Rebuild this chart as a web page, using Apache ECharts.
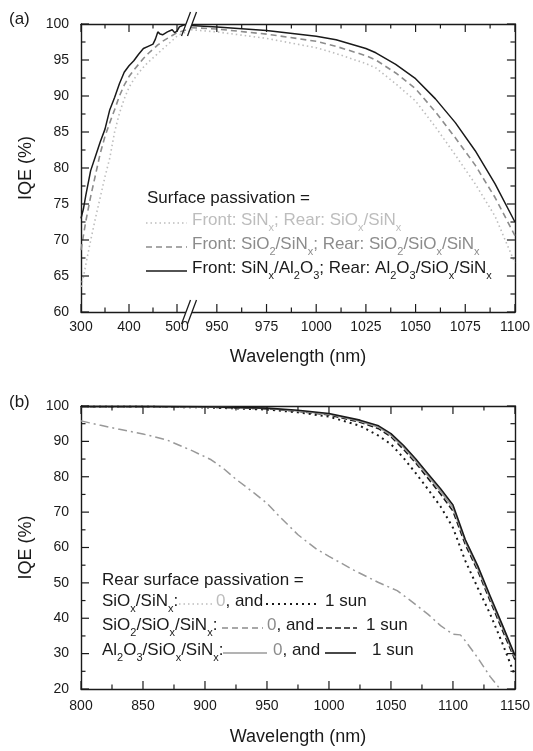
<!DOCTYPE html>
<html>
<head>
<meta charset="utf-8">
<script src="https://cdn.jsdelivr.net/npm/echarts@6/dist/echarts.min.js"></script>
<style>
html,body{margin:0;padding:0;background:#fff;}
#wrap{position:relative;width:533px;height:751px;}
#main,#over{position:absolute;left:0;top:0;width:533px;height:751px;}
#over{pointer-events:none;}
</style>
</head>
<body>
<div id="wrap"><div id="main"></div><div id="over"></div></div>
<script>
// (a) short wavelength part, nm
var aLeftNm    = [300,305,310,320,330,340,350,360,370,380,390,400,410,420,430,440,450,455,460,465,470,480,490,495,500,505,515,525];
var aLeftSolid = [73.0,74.3,76.2,79.6,81.6,83.6,85.4,88.1,89.8,91.7,93.3,94.2,94.9,95.8,96.6,96.9,97.2,97.9,98.9,98.6,98.5,98.9,99.2,98.8,99.0,99.6,99.9,99.9];
var aLeftDash  = [68.6,70.6,72.6,76.0,79.0,82.0,84.4,86.3,88.1,90.0,91.5,92.7,93.6,94.4,95.2,95.9,96.5,96.8,97.1,97.3,97.6,98.0,98.4,98.6,98.8,98.9,99.1,99.3];
var aLeftDot   = [63.5,64.8,66.6,69.9,73.0,75.9,78.8,81.4,85.0,87.6,89.6,91.2,92.3,93.2,94.0,94.7,95.3,95.6,95.9,96.2,96.5,97.1,97.7,98.0,98.3,98.5,98.8,99.0];

// (a) long wavelength part, nm
var aRightNm    = [937,950,975,1000,1010,1025,1030,1040,1050,1060,1070,1080,1090,1100];
var aRightSolid = [99.8,99.6,99.1,98.3,97.8,96.6,96.0,94.4,92.4,89.6,86.3,82.4,77.8,72.5];
var aRightDash  = [99.5,99.3,98.6,97.6,96.9,95.6,95.0,93.2,91.0,87.8,84.2,80.4,75.9,70.6];
var aRightDot   = [99.2,98.9,98.0,96.7,95.9,94.5,93.9,91.7,89.3,85.7,81.8,77.8,73.3,66.8];

// (b)
var bNm        = [800,850,900,950,975,1000,1025,1040,1050,1060,1070,1080,1090,1100,1110,1120,1130,1140,1150];
var bAlOx1Sun  = [99.9,99.9,99.8,99.4,98.8,97.9,96.0,94.4,92.2,88.9,85.0,80.8,76.6,72.0,62.2,54.8,46.3,38.0,29.5];
var bAlOx0Sun  = [99.8,99.8,99.7,99.3,98.6,97.7,95.7,94.0,91.7,88.4,84.4,80.2,75.9,71.2,61.6,54.1,45.6,37.3,28.9];
var bSiO21Sun  = [99.8,99.8,99.7,99.2,98.5,97.5,95.4,93.6,91.3,87.8,83.9,79.5,75.1,70.3,60.8,53.4,44.9,36.5,28.3];
var bSiOx1Sun  = [99.8,99.8,99.6,99.0,98.2,97.0,94.4,91.6,89.2,85.4,81.0,76.4,71.6,65.6,56.2,48.6,41.2,32.8,23.8];
var bLowNm     = [800,815,830,850,870,890,905,915,925,940,950,960,975,990,1000,1020,1040,1055,1065,1080,1090,1100,1106,1110,1120,1130,1138];
var bLow0Sun   = [95.8,94.6,93.5,92.1,90.3,87.3,84.8,82.3,79.3,75.3,72.5,68.8,63.6,59.5,57.5,53.6,50.1,47.8,45.2,41.1,37.9,35.5,35.3,33.6,28.8,23.5,20.0];

// ticks
var aLeftMajor  = [300,400,500];
var aLeftMinor  = [350,450];
var aRightMajor = [950,975,1000,1025,1050,1075,1100];
var aRightMinor = [962.5,987.5,1012.5,1037.5,1062.5,1087.5];
var aYMajor = [60,65,70,75,80,85,90,95,100];
var aYMinor = [62.5,67.5,72.5,77.5,82.5,87.5,92.5,97.5];
var bXMajor = [800,850,900,950,1000,1050,1100,1150];
var bXMinor = [825,875,925,975,1025,1075,1125];
var bYMajor = [20,30,40,50,60,70,80,90,100];
var bYMinor = [25,35,45,55,65,75,85,95];

var FONT = '"Liberation Sans", Arial, Helvetica, sans-serif';
var INK = '#1a1a1a', LIGHT = '#bdbdbd', GRAY = '#8c8c8c', GRAY2 = '#9a9a9a';

function plain(v) { return String(v); }

function axis(grid, pos, min, max, interval, fmt, margin) {
    var a = {
        type: 'value', gridIndex: grid, position: pos, min: min, max: max, interval: interval,
        axisLine: {show: true, onZero: false, lineStyle: {color: INK, width: 1.4}},
        axisTick: {show: false},
        minorTick: {show: false},
        axisLabel: {show: !!fmt, color: INK, fontSize: 14, fontFamily: FONT, margin: margin || 8, showMaxLabel: true},
        splitLine: {show: false},
        nameTextStyle: {color: INK, fontSize: 18, fontFamily: FONT}
    };
    if (fmt) a.axisLabel.formatter = fmt;
    return a;
}

var xAxes = [
    axis(0, 'bottom', 300, 525, 100, plain, 8),
    axis(0, 'top', 300, 525, 100),
    axis(1, 'bottom', 937.5, 1100, 12.5, function (v) { return v % 25 === 0 ? String(v) : ''; }, 8),
    axis(1, 'top', 937.5, 1100, 12.5),
    axis(2, 'bottom', 800, 1150, 50, plain, 10),
    axis(2, 'top', 800, 1150, 50)
];
xAxes[0].axisLabel.showMaxLabel = false;

var yAxes = [
    axis(0, 'left', 60, 100, 5, plain, 12),
    axis(1, 'right', 60, 100, 5),
    axis(2, 'left', 20, 100, 10, plain, 12),
    axis(2, 'right', 20, 100, 10)
];

yAxes[0].name = 'IQE (%)';
yAxes[0].nameLocation = 'middle';
yAxes[0].nameGap = 46;
yAxes[2].name = 'IQE (%)';
yAxes[2].nameLocation = 'middle';
yAxes[2].nameGap = 46;
xAxes[4].name = 'Wavelength (nm)';
xAxes[4].nameLocation = 'middle';
xAxes[4].nameGap = 39;

var axA1 = {x: 0, y: 0}, axA2 = {x: 2, y: 1}, axB = {x: 4, y: 2};

function pairs(xs, ys) {
    return xs.map(function (x, i) { return [x, ys[i]]; });
}

function curve(name, ax, xs, ys, color, type, width, z) {
    return {
        name: name, type: 'line', xAxisIndex: ax.x, yAxisIndex: ax.y,
        data: pairs(xs, ys), symbol: 'none', silent: true, z: z,
        lineStyle: {color: color, type: type, width: width}
    };
}

var DOT = [1.5, 3], DASH = [6, 4];
var series = [
    curve('a dot', axA1, aLeftNm, aLeftDot, LIGHT, DOT, 1.6, 2),
    curve('a dash', axA1, aLeftNm, aLeftDash, GRAY, DASH, 1.6, 3),
    curve('a solid', axA1, aLeftNm, aLeftSolid, INK, 'solid', 1.5, 4),
    curve('a dot', axA2, aRightNm, aRightDot, LIGHT, DOT, 1.6, 2),
    curve('a dash', axA2, aRightNm, aRightDash, GRAY, DASH, 1.6, 3),
    curve('a solid', axA2, aRightNm, aRightSolid, INK, 'solid', 1.5, 4),
    curve('0 sun low', axB, bLowNm, bLow0Sun, '#999', [9, 4, 2, 4], 1.5, 2),
    curve('SiOx 1 sun', axB, bNm, bSiOx1Sun, INK, [2, 4], 2, 3),
    curve('SiO2 1 sun', axB, bNm, bSiO21Sun, INK, [6, 3], 1.6, 3),
    curve('AlOx 0 sun', axB, bNm, bAlOx0Sun, GRAY2, 'solid', 1.5, 3),
    curve('AlOx 1 sun', axB, bNm, bAlOx1Sun, INK, 'solid', 1.6, 4)
];

var chart = echarts.init(document.getElementById('main'));
chart.setOption({
    animation: false,
    backgroundColor: '#fff',
    grid: [
        {left: 81, top: 24, width: 108, height: 288},
        {left: 192, top: 24, width: 323, height: 288},
        {left: 81, top: 406, width: 434, height: 283}
    ],
    xAxis: xAxes,
    yAxis: yAxes,
    series: series
});

var graphics = [];

function seg(x1, y1, x2, y2, w) {
    graphics.push({type: 'line', z: 90, silent: true,
        shape: {x1: x1, y1: y1, x2: x2, y2: y2},
        style: {stroke: INK, lineWidth: w || 1.2}});
}

//inward ticks, placed with the chart's own axis scales
function addTicks(ax, xr, yr, xMaj, xMin, yMaj, yMin, sides) {
    var px = function (v) { return chart.convertToPixel({xAxisIndex: ax.x}, v); };
    var py = function (v) { return chart.convertToPixel({yAxisIndex: ax.y}, v); };
    var bottom = py(yr[0]), top = py(yr[1]), left = px(xr[0]), right = px(xr[1]);
    [[xMaj, 8], [xMin, 4.5]].forEach(function (set) {
        set[0].forEach(function (v) {
            var x = px(v);
            seg(x, bottom, x, bottom - set[1]);
            seg(x, top, x, top + set[1]);
        });
    });
    [[yMaj, 8], [yMin, 4.5]].forEach(function (set) {
        set[0].forEach(function (v) {
            var y = py(v);
            if (sides.indexOf('left') >= 0) seg(left, y, left + set[1], y);
            if (sides.indexOf('right') >= 0) seg(right, y, right - set[1], y);
        });
    });
}

addTicks(axA1, [300, 525], [60, 100], aLeftMajor, aLeftMinor, aYMajor, aYMinor, ['left']);
addTicks(axA2, [937.5, 1100], [60, 100], aRightMajor, aRightMinor, aYMajor, aYMinor, ['right']);
addTicks(axB, [800, 1150], [20, 100], bXMajor, bXMinor, bYMajor, bYMinor, ['left', 'right']);

// rich text with _x style subscripts
var rich = {};
[['k', INK], ['l', LIGHT], ['g', GRAY]].forEach(function (c) {
    rich[c[0]] = {fontSize: 17, fontFamily: FONT, lineHeight: 20, verticalAlign: 'top', fill: c[1], color: c[1]};
    rich[c[0] + 's'] = {fontSize: 11, fontFamily: FONT, lineHeight: 12, padding: [10, 0, 0, 0], verticalAlign: 'top', fill: c[1], color: c[1]};
});
function richText(s, key) {
    return s.split(/_(\w)/).map(function (p, i) {
        if (p === '') return '';
        return i % 2 ? '{' + key + 's|' + p + '}' : '{' + key + '|' + p + '}';
    }).join('');
}

function txt(x, y, text) {
    graphics.push({
        type: 'text', x: x, y: y - 10, z: 100, silent: true,
        style: {text: text, rich: rich, align: 'left', textAlign: 'left', verticalAlign: 'top', textVerticalAlign: 'top',
                fontSize: 17, fontFamily: FONT, fill: INK}
    });
}
function sample(x1, x2, y, color, dash, w) {
    graphics.push({
        type: 'line', z: 100, silent: true,
        shape: {x1: x1, y1: y, x2: x2, y2: y},
        style: {stroke: color, lineWidth: w, lineDash: dash || [0]}
    });
}
//axis break: white gap and two slashes
function brk(y) {
    graphics.push({type: 'polygon', z: 100, silent: true,
        shape: {points: [[184.5, y + 4], [187.5, y - 4], [193.5, y - 4], [190.5, y + 4]]},
        style: {fill: '#fff'}});
    [186, 192].forEach(function (cx) {
        graphics.push({type: 'line', z: 101, silent: true,
            shape: {x1: cx - 4.5, y1: y + 12, x2: cx + 4.5, y2: y - 12},
            style: {stroke: INK, lineWidth: 1.3}});
    });
}

brk(24);
brk(312);

txt(9, 21, '{k|(a)}');
txt(9, 404, '{k|(b)}');
graphics.push({
    type: 'text', x: 298, y: 357, z: 100, silent: true,
    style: {text: 'Wavelength (nm)', fontSize: 18, fontFamily: FONT, fill: INK,
            align: 'center', textAlign: 'center', verticalAlign: 'middle', textVerticalAlign: 'middle'}
});

// legend (a)
txt(147, 200, richText('Surface passivation =', 'k'));
sample(146, 187, 223, LIGHT, DOT, 1.6);
txt(192, 222, richText('Front: SiN_x; Rear: SiO_x/SiN_x', 'l'));
sample(146, 187, 247, GRAY, DASH, 1.6);
txt(192, 246, richText('Front: SiO_2/SiN_x; Rear: SiO_2/SiO_x/SiN_x', 'g'));
sample(146, 187, 271, INK, null, 1.5);
txt(192, 270, richText('Front: SiN_x/Al_2O_3; Rear: Al_2O_3/SiO_x/SiN_x', 'k'));

// legend (b)
txt(102, 582, richText('Rear surface passivation =', 'k'));
txt(102, 603, richText('SiO_x/SiN_x:', 'k'));
sample(179, 213, 604, LIGHT, DOT, 1.6);
txt(216, 603, richText('0', 'l') + richText(', and', 'k'));
sample(266, 318, 604, INK, [2, 4], 2);
txt(325, 603, richText('1 sun', 'k'));
txt(102, 627, richText('SiO_2/SiO_x/SiN_x:', 'k'));
sample(222, 263, 628, GRAY, DASH, 1.6);
txt(267, 627, richText('0', 'g') + richText(', and', 'k'));
sample(317, 357, 628, INK, [6, 3], 1.6);
txt(366, 627, richText('1 sun', 'k'));
txt(102, 652, richText('Al_2O_3/SiO_x/SiN_x:', 'k'));
sample(223, 267, 653, GRAY2, null, 1.5);
txt(273, 652, richText('0', 'g') + richText(', and', 'k'));
sample(325, 356, 653, INK, null, 1.6);
txt(372, 652, richText('1 sun', 'k'));

// texts, legend, ticks and break marks on a layer above the plot
var over = echarts.init(document.getElementById('over'));
over.setOption({
    animation: false,
    backgroundColor: 'transparent',
    graphic: graphics
});
</script>
</body>
</html>
